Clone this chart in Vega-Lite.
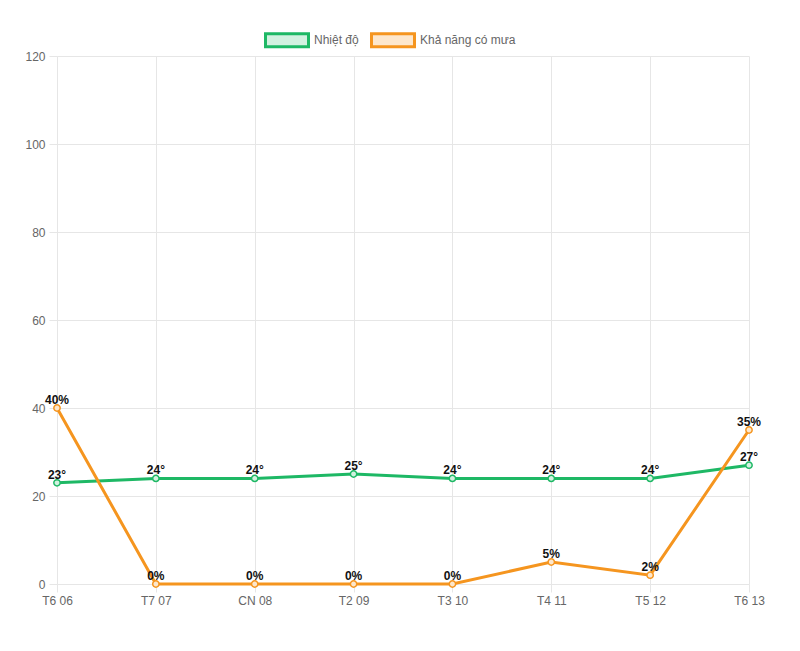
{
  "$schema": "https://vega.github.io/schema/vega-lite/v6.json",
  "autosize": {"type": "none"},
  "width": 692,
  "height": 528,
  "padding": {"left": 57, "top": 56, "right": 51, "bottom": 67},
  "background": "#ffffff",
  "config": {
    "font": "Liberation Sans",
    "view": {"stroke": null},
    "axis": {"gridColor": "#e6e6e6", "tickColor": "#e6e6e6", "domainColor": "#e6e6e6", "labelColor": "#666666", "labelFontSize": 12, "labelFont": "Liberation Sans", "tickSize": 8}
  },
  "data": {
    "values": [
      {"day": "T6 06", "series": "Nhiệt độ", "value": 23, "label": "23°"},
      {"day": "T7 07", "series": "Nhiệt độ", "value": 24, "label": "24°"},
      {"day": "CN 08", "series": "Nhiệt độ", "value": 24, "label": "24°"},
      {"day": "T2 09", "series": "Nhiệt độ", "value": 25, "label": "25°"},
      {"day": "T3 10", "series": "Nhiệt độ", "value": 24, "label": "24°"},
      {"day": "T4 11", "series": "Nhiệt độ", "value": 24, "label": "24°"},
      {"day": "T5 12", "series": "Nhiệt độ", "value": 24, "label": "24°"},
      {"day": "T6 13", "series": "Nhiệt độ", "value": 27, "label": "27°"},
      {"day": "T6 06", "series": "Khả năng có mưa", "value": 40, "label": "40%"},
      {"day": "T7 07", "series": "Khả năng có mưa", "value": 0, "label": "0%"},
      {"day": "CN 08", "series": "Khả năng có mưa", "value": 0, "label": "0%"},
      {"day": "T2 09", "series": "Khả năng có mưa", "value": 0, "label": "0%"},
      {"day": "T3 10", "series": "Khả năng có mưa", "value": 0, "label": "0%"},
      {"day": "T4 11", "series": "Khả năng có mưa", "value": 5, "label": "5%"},
      {"day": "T5 12", "series": "Khả năng có mưa", "value": 2, "label": "2%"},
      {"day": "T6 13", "series": "Khả năng có mưa", "value": 35, "label": "35%"}
    ]
  },
  "encoding": {
    "x": {"field": "day", "type": "nominal", "sort": null, "scale": {"type": "point", "padding": 0},
      "axis": {"title": null, "labelAngle": 0, "grid": true, "labelPadding": 3}},
    "y": {"field": "value", "type": "quantitative", "scale": {"domain": [0, 120], "nice": false},
      "axis": {"title": null, "values": [0, 20, 40, 60, 80, 100, 120], "labelPadding": 4, "grid": true}}
  },
  "layer": [
    {
      "mark": {"type": "line", "strokeWidth": 3},
      "encoding": {
        "color": {"field": "series", "type": "nominal", "sort": null,
          "scale": {"domain": ["Nhiệt độ", "Khả năng có mưa"], "range": ["#1eb865", "#f5951f"]},
          "legend": {
            "title": null, "orient": "none", "direction": "horizontal",
            "legendX": 207, "legendY": -39,
            "symbolType": "M-1,-0.3H1V0.3H-1Z", "symbolSize": 1849, "symbolStrokeWidth": 3,
            "labelFontSize": 12, "labelColor": "#666666", "labelFont": "Liberation Sans",
            "labelOffset": 4, "columnPadding": 6, "padding": 0,
            "encode": {"symbols": {"update": {"fill": {"signal": "datum.value === 'Nhiệt độ' ? '#d2f1e0' : '#fde7cc'"}, "fillOpacity": {"value": 1}, "stroke": {"scale": "color", "field": "value"}}}}
          }
        }
      }
    },
    {
      "mark": {"type": "point", "filled": false, "size": 40, "strokeWidth": 1.5, "opacity": 1},
      "encoding": {
        "stroke": {"field": "series", "type": "nominal", "scale": {"domain": ["Nhiệt độ", "Khả năng có mưa"], "range": ["#1eb865", "#f5951f"]}, "legend": null},
        "fill": {"field": "series", "type": "nominal", "scale": {"domain": ["Nhiệt độ", "Khả năng có mưa"], "range": ["#d2f1e0", "#fde7cc"]}, "legend": null}
      }
    },
    {
      "mark": {"type": "text", "fontWeight": "bold", "fontSize": 12, "color": "#111111", "baseline": "bottom", "dy": -1},
      "encoding": {"text": {"field": "label"}}
    }
  ]
}
